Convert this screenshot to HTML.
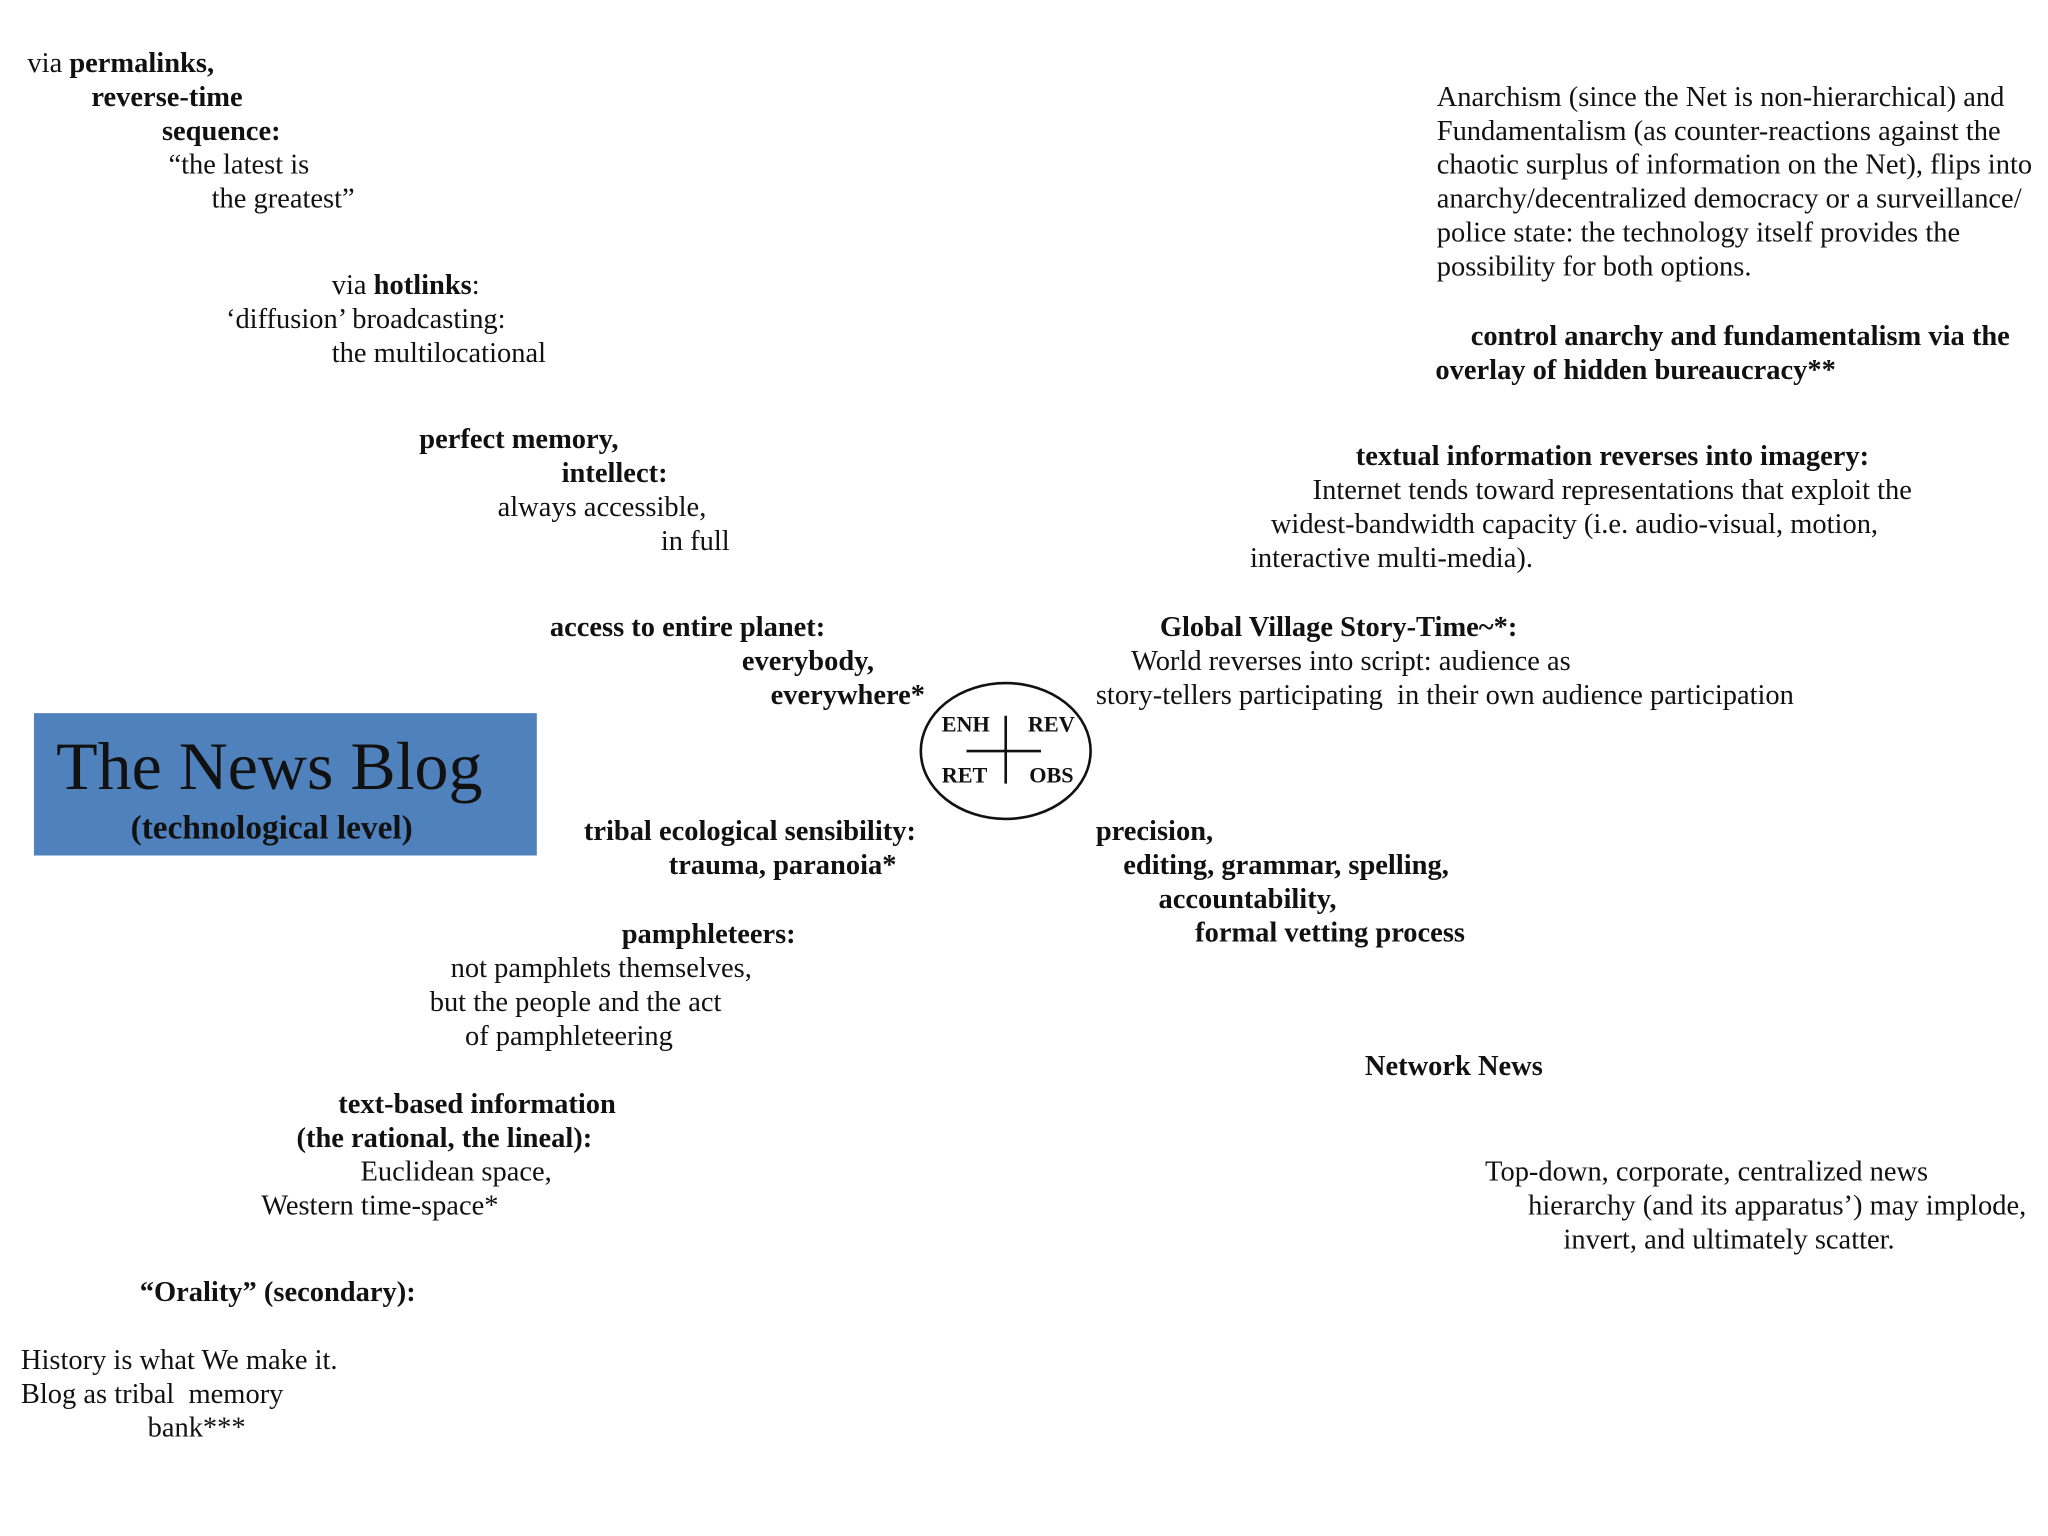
<!DOCTYPE html>
<html><head><meta charset="utf-8"><style>
html,body{margin:0;padding:0;background:#fff;}
body{width:2048px;height:1536px;overflow:hidden;position:relative;}
#w{position:absolute;left:0;top:0;width:1568px;height:1176px;transform:scale(1.30612);transform-origin:0 0;font-family:"Liberation Serif",serif;font-size:21.8px;color:#111;}
#w div.t{position:absolute;white-space:pre;line-height:24px;}
b{font-weight:bold;}
</style></head><body><div id="w">
<div class="t" style="left:21px;top:36px">via <b>permalinks,</b></div>
<div class="t" style="left:70px;top:62px"><b>reverse-time</b></div>
<div class="t" style="left:124px;top:88px"><b>sequence:</b></div>
<div class="t" style="left:129px;top:114px">“the latest is</div>
<div class="t" style="left:162px;top:140px">the greatest”</div>
<div class="t" style="left:254px;top:206px">via <b>hotlinks</b>:</div>
<div class="t" style="left:173px;top:232px">‘diffusion’ broadcasting:</div>
<div class="t" style="left:254px;top:258px">the multilocational</div>
<div class="t" style="left:321px;top:324px"><b>perfect memory,</b></div>
<div class="t" style="left:430px;top:350px"><b>intellect:</b></div>
<div class="t" style="left:381px;top:376px">always accessible,</div>
<div class="t" style="left:506px;top:402px">in full</div>
<div class="t" style="left:421px;top:468px"><b>access to entire planet:</b></div>
<div class="t" style="left:568px;top:494px"><b>everybody,</b></div>
<div class="t" style="left:590px;top:520px"><b>everywhere*</b></div>
<div style="position:absolute;left:26px;top:546px;width:385px;height:109px;background:#4f81bd;"></div>
<div class="t" style="left:43px;top:559px;font-size:52px;line-height:58px;color:#111">The News Blog</div>
<div class="t" style="left:100px;top:620px;font-size:25.5px;line-height:28px"><b>(technological level)</b></div>
<svg style="position:absolute;left:0;top:0" width="1568" height="1176">
<ellipse cx="770" cy="575" rx="65" ry="52" fill="none" stroke="#111" stroke-width="2"/>
<line x1="740" y1="575" x2="797" y2="575" stroke="#111" stroke-width="2"/>
<line x1="770" y1="548" x2="770" y2="600" stroke="#111" stroke-width="2"/>
<g font-family="Liberation Serif,serif" font-weight="bold" font-size="17" fill="#111">
<text x="721" y="560">ENH</text><text x="787" y="560">REV</text>
<text x="721" y="599">RET</text><text x="788" y="599">OBS</text></g>
</svg>
<div class="t" style="left:447px;top:624px"><b>tribal ecological sensibility:</b></div>
<div class="t" style="left:512px;top:650px"><b>trauma, paranoia*</b></div>
<div class="t" style="left:476px;top:703px"><b>pamphleteers:</b></div>
<div class="t" style="left:345px;top:729px">not pamphlets themselves,</div>
<div class="t" style="left:329px;top:755px">but the people and the act</div>
<div class="t" style="left:356px;top:781px">of pamphleteering</div>
<div class="t" style="left:259px;top:833px"><b>text-based information</b></div>
<div class="t" style="left:227px;top:859px"><b>(the rational, the lineal):</b></div>
<div class="t" style="left:276px;top:885px">Euclidean space,</div>
<div class="t" style="left:200px;top:911px">Western time-space*</div>
<div class="t" style="left:107px;top:977px"><b>“Orality” (secondary):</b></div>
<div class="t" style="left:16px;top:1029px">History is what We make it.</div>
<div class="t" style="left:16px;top:1055px">Blog as tribal  memory</div>
<div class="t" style="left:113px;top:1081px">bank***</div>
<div class="t" style="left:1100px;top:62px">Anarchism (since the Net is non-hierarchical) and</div>
<div class="t" style="left:1100px;top:88px">Fundamentalism (as counter-reactions against the</div>
<div class="t" style="left:1100px;top:114px">chaotic surplus of information on the Net), flips into</div>
<div class="t" style="left:1100px;top:140px">anarchy/decentralized democracy or a surveillance/</div>
<div class="t" style="left:1100px;top:166px">police state: the technology itself provides the</div>
<div class="t" style="left:1100px;top:192px">possibility for both options.</div>
<div class="t" style="left:1126px;top:245px"><b>control anarchy and fundamentalism via the</b></div>
<div class="t" style="left:1099px;top:271px"><b>overlay of hidden bureaucracy**</b></div>
<div class="t" style="left:1038px;top:337px"><b>textual information reverses into imagery:</b></div>
<div class="t" style="left:1005px;top:363px">Internet tends toward representations that exploit the</div>
<div class="t" style="left:973px;top:389px">widest-bandwidth capacity (i.e. audio-visual, motion,</div>
<div class="t" style="left:957px;top:415px">interactive multi-media).</div>
<div class="t" style="left:888px;top:468px"><b>Global Village Story-Time~*:</b></div>
<div class="t" style="left:866px;top:494px">World reverses into script: audience as</div>
<div class="t" style="left:839px;top:520px">story-tellers participating  in their own audience participation</div>
<div class="t" style="left:839px;top:624px"><b>precision,</b></div>
<div class="t" style="left:860px;top:650px"><b>editing, grammar, spelling,</b></div>
<div class="t" style="left:887px;top:676px"><b>accountability,</b></div>
<div class="t" style="left:915px;top:702px"><b>formal vetting process</b></div>
<div class="t" style="left:1045px;top:804px"><b>Network News</b></div>
<div class="t" style="left:1137px;top:885px">Top-down, corporate, centralized news</div>
<div class="t" style="left:1170px;top:911px">hierarchy (and its apparatus’) may implode,</div>
<div class="t" style="left:1197px;top:937px">invert, and ultimately scatter.</div>
</div></body></html>
